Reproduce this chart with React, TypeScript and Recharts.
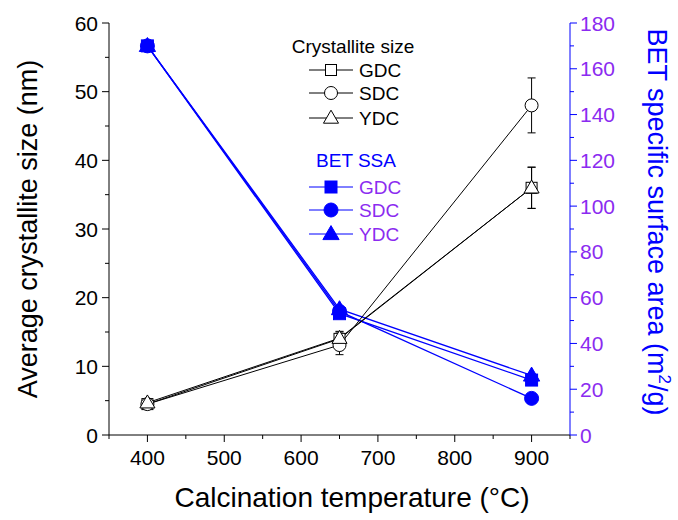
import React from "react";
import { ComposedChart, Line, XAxis, YAxis, ErrorBar } from "recharts";

const temps = [400, 650, 900];

// crystallite size (nm), left axis
const gdcSize = [4.5, 14.0, 36.0];
const sdcSize = [4.5, 13.1, 48.0];
const ydcSize = [4.7, 14.1, 36.0];
const gdcSizeErr = [0.5, 1.0, 3.0];
const sdcSizeErr = [0.5, 1.4, 4.0];
const ydcSizeErr = [0.5, 1.0, 3.0];

// BET specific surface area (m2/g), right axis
const gdcBet = [170, 53, 24];
const sdcBet = [170, 54, 16];
const ydcBet = [170, 55, 26];

const xTicks = [350, 400, 450, 500, 550, 600, 650, 700, 750, 800, 850, 900, 950];
const leftTicks = [0, 5, 10, 15, 20, 25, 30, 35, 40, 45, 50, 55, 60];
const rightTicks = [0, 10, 20, 30, 40, 50, 60, 70, 80, 90, 100, 110, 120, 130, 140, 150, 160, 170, 180];

const rows = temps.map((t, i) => ({
  t,
  gdcSize: gdcSize[i],
  sdcSize: sdcSize[i],
  ydcSize: ydcSize[i],
  gdcSizeErr: gdcSizeErr[i],
  sdcSizeErr: sdcSizeErr[i],
  ydcSizeErr: ydcSizeErr[i],
  gdcBet: gdcBet[i],
  sdcBet: sdcBet[i],
  ydcBet: ydcBet[i],
}));

const BLUE = "#0000ff";
const PURPLE = "#8b2bf0";
const FONT = "'Liberation Sans', Arial, sans-serif";

function Marker({ cx, cy, kind, filled }: any) {
  if (cx == null || cy == null) return null;
  const fill = filled ? BLUE : "#fff";
  const stroke = filled ? BLUE : "#000";
  if (kind === "square") {
    const s = filled ? 12 : 11;
    return <rect x={cx - s / 2} y={cy - s / 2} width={s} height={s} fill={fill} stroke={stroke} strokeWidth={1} />;
  }
  if (kind === "circle") {
    return <circle cx={cx} cy={cy} r={filled ? 7 : 6.5} fill={fill} stroke={stroke} strokeWidth={1} />;
  }
  const h = filled ? 14 : 13;
  return (
    <polygon
      points={`${cx},${cy - h * 0.6} ${cx + h * 0.58},${cy + h * 0.4} ${cx - h * 0.58},${cy + h * 0.4}`}
      fill={fill}
      stroke={stroke}
      strokeWidth={1}
    />
  );
}

const dotFor = (kind: string, filled: boolean) => (p: any) =>
  <Marker key={`${kind}-${filled}-${p.index}`} cx={p.cx} cy={p.cy} kind={kind} filled={filled} />;

function BottomTick({ x, y, payload }: any) {
  const v = payload.value;
  const major = v % 100 === 0 && v !== 0 && v >= 400 && v <= 900;
  return (
    <g>
      <line x1={x} x2={x} y1={y} y2={y + (major ? 7 : 4)} stroke="#000" />
      {major && (
        <text x={x} y={y + 30} textAnchor="middle" fontSize={21} fontFamily={FONT} fill="#000">
          {v}
        </text>
      )}
    </g>
  );
}

function TopTick({ x, y, payload }: any) {
  const v = payload.value;
  const major = v % 100 === 0;
  return <line x1={x} x2={x} y1={y} y2={y + (major ? 7 : 4)} stroke="#000" />;
}

function LeftTick({ x, y, payload }: any) {
  const v = payload.value;
  const major = v % 10 === 0;
  return (
    <g>
      <line x1={x} x2={x - (major ? 7 : 4)} y1={y} y2={y} stroke="#000" />
      {major && (
        <text x={x - 11} y={y + 7.5} textAnchor="end" fontSize={21} fontFamily={FONT} fill="#000">
          {v}
        </text>
      )}
    </g>
  );
}

function RightTick({ x, y, payload }: any) {
  const v = payload.value;
  const major = v % 20 === 0;
  return (
    <g>
      <line x1={x} x2={x + (major ? 7 : 4)} y1={y} y2={y} stroke={BLUE} />
      {major && (
        <text x={x + 10} y={y + 7.5} textAnchor="start" fontSize={21} fontFamily={FONT} fill={PURPLE}>
          {v}
        </text>
      )}
    </g>
  );
}

const sizeLegend = [
  { label: "GDC", kind: "square", y: 70 },
  { label: "SDC", kind: "circle", y: 93 },
  { label: "YDC", kind: "triangle", y: 118 },
];
const betLegend = [
  { label: "GDC", kind: "square", y: 187 },
  { label: "SDC", kind: "circle", y: 210 },
  { label: "YDC", kind: "triangle", y: 234 },
];

function Overlay() {
  return (
    <svg width={678} height={520} style={{ position: "absolute", left: 0, top: 0, pointerEvents: "none" }}>
      <text x={353} y={53} textAnchor="middle" fontSize={19} fontFamily={FONT} fill="#000">
        Crystallite size
      </text>
      {sizeLegend.map((r) => (
        <g key={"s" + r.label}>
          <line x1={309} x2={353} y1={r.y} y2={r.y} stroke="#000" />
          <Marker cx={331} cy={r.y} kind={r.kind} filled={false} />
          <text x={359} y={r.y + 7} fontSize={19} fontFamily={FONT} fill="#000">
            {r.label}
          </text>
        </g>
      ))}
      <text x={356} y={167} textAnchor="middle" fontSize={19} fontFamily={FONT} fill={BLUE}>
        BET SSA
      </text>
      {betLegend.map((r) => (
        <g key={"b" + r.label}>
          <line x1={309} x2={353} y1={r.y} y2={r.y} stroke={BLUE} />
          <Marker cx={331} cy={r.y} kind={r.kind} filled={true} />
          <text x={359} y={r.y + 7} fontSize={19} fontFamily={FONT} fill={PURPLE}>
            {r.label}
          </text>
        </g>
      ))}
      <text
        transform="translate(37,229) rotate(-90)"
        textAnchor="middle"
        fontSize={27}
        fontFamily={FONT}
        fill="#000"
      >
        Average crystallite size (nm)
      </text>
      <text
        transform="translate(648,222) rotate(90)"
        textAnchor="middle"
        fontSize={27}
        fontFamily={FONT}
        fill={BLUE}
      >
        BET specific surface area (m
        <tspan dy={-11} fontSize={17}>2</tspan>
        <tspan dy={11}>/g)</tspan>
      </text>
      <text x={352} y={507} textAnchor="middle" fontSize={28} fontFamily={FONT} fill="#000">
        Calcination temperature (°C)
      </text>
    </svg>
  );
}

export default function App() {
  return (
    <div style={{ position: "relative", width: 678, height: 520, background: "#fff" }}>
      <style>{"body{margin:0}"}</style>
      <ComposedChart width={678} height={520} data={rows} margin={{ top: 23, right: 0, bottom: 0, left: 0 }}>
        <XAxis
          xAxisId="bottom"
          dataKey="t"
          type="number"
          domain={[350, 950]}
          ticks={xTicks}
          interval={0}
          tick={<BottomTick />}
          tickLine={false}
          tickSize={0}
          tickMargin={0}
          axisLine={{ stroke: "#000" }}
          height={85}
          allowDataOverflow
        />
        <XAxis
          xAxisId="top"
          orientation="top"
          dataKey="t"
          type="number"
          domain={[350, 950]}
          ticks={xTicks}
          interval={0}
          tick={<TopTick />}
          tickLine={false}
          tickSize={0}
          tickMargin={0}
          axisLine={{ stroke: "#000" }}
          height={0}
          allowDataOverflow
        />
        <YAxis
          yAxisId="left"
          type="number"
          domain={[0, 60]}
          ticks={leftTicks}
          interval={0}
          tick={<LeftTick />}
          tickLine={false}
          tickSize={0}
          tickMargin={0}
          axisLine={{ stroke: "#000" }}
          width={109}
          allowDataOverflow
        />
        <YAxis
          yAxisId="right"
          orientation="right"
          type="number"
          domain={[0, 180]}
          ticks={rightTicks}
          interval={0}
          tick={<RightTick />}
          tickLine={false}
          tickSize={0}
          tickMargin={0}
          axisLine={{ stroke: BLUE }}
          width={108}
          allowDataOverflow
        />

        <Line xAxisId="bottom" yAxisId="right" dataKey="gdcBet" type="linear" stroke={BLUE} strokeWidth={1.3} dot={dotFor("square", true)} activeDot={false} isAnimationActive={false} />
        <Line xAxisId="bottom" yAxisId="right" dataKey="sdcBet" type="linear" stroke={BLUE} strokeWidth={1.3} dot={dotFor("circle", true)} activeDot={false} isAnimationActive={false} />
        <Line xAxisId="bottom" yAxisId="right" dataKey="ydcBet" type="linear" stroke={BLUE} strokeWidth={1.3} dot={dotFor("triangle", true)} activeDot={false} isAnimationActive={false} />

        <Line xAxisId="bottom" yAxisId="left" dataKey="gdcSize" type="linear" stroke="#000" strokeWidth={1} dot={dotFor("square", false)} activeDot={false} isAnimationActive={false}>
          <ErrorBar dataKey="gdcSizeErr" direction="y" width={4} stroke="#000" strokeWidth={1} />
        </Line>
        <Line xAxisId="bottom" yAxisId="left" dataKey="sdcSize" type="linear" stroke="#000" strokeWidth={1} dot={dotFor("circle", false)} activeDot={false} isAnimationActive={false}>
          <ErrorBar dataKey="sdcSizeErr" direction="y" width={4} stroke="#000" strokeWidth={1} />
        </Line>
        <Line xAxisId="bottom" yAxisId="left" dataKey="ydcSize" type="linear" stroke="#000" strokeWidth={1} dot={dotFor("triangle", false)} activeDot={false} isAnimationActive={false}>
          <ErrorBar dataKey="ydcSizeErr" direction="y" width={4} stroke="#000" strokeWidth={1} />
        </Line>
      </ComposedChart>
      <Overlay />
    </div>
  );
}
